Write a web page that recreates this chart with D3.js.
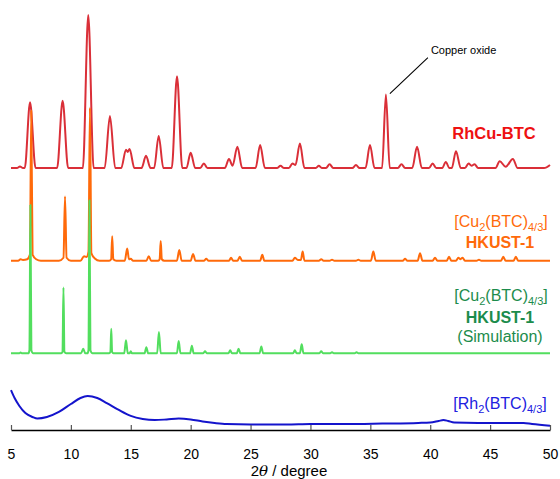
<!DOCTYPE html>
<html>
<head>
<meta charset="utf-8">
<script src="https://cdn.jsdelivr.net/npm/d3@7"></script>
<style>
   body { margin: 0; background: #fff; }
   svg { display: block; font-family: 'Liberation Sans', Arial, Helvetica, sans-serif; }
</style>
</head>
<body>
<div id="chart"></div>
<script>
// XRD patterns, [2theta (deg), relative intensity]
const rhCuBtc = [
   [5, 0], [5.5, 0], [5.75, 1], [6.0, 0], [6.15, 0], [6.59, 43], [7.05, 0],
   [8.85, 0], [9.31, 44], [9.77, 0],
   [11.0, 0], [11.45, 100], [11.9, 0],
   [12.82, 0], [13.26, 34], [13.7, 0],
   [14.2, 0], [14.6, 12], [14.75, 10.5], [14.9, 12.5], [15.3, 0],
   [15.9, 0], [16.27, 8], [16.65, 0],
   [16.95, 0], [17.33, 21], [17.72, 0],
   [18.42, 0], [18.86, 60], [19.3, 0],
   [19.65, 0], [20.0, 10], [20.38, 0],
   [20.8, 0], [21.1, 3], [21.4, 0],
   [22.85, 0], [23.2, 6], [23.5, 1.5], [23.9, 14], [24.3, 0],
   [25.42, 0], [25.8, 15], [26.2, 0],
   [27.2, 0], [27.5, 1.5], [27.8, 0],
   [28.2, 0], [28.5, 3], [28.75, 2], [29.12, 16], [29.5, 0],
   [30.45, 0], [30.7, 1.5], [30.95, 0],
   [31.3, 0], [31.6, 2.5], [31.9, 0],
   [33.5, 0], [33.8, 2], [34.1, 0],
   [34.6, 0], [34.97, 15], [35.35, 0],
   [35.98, 0], [36.3, 48], [36.62, 0],
   [37.3, 0], [37.6, 2.5], [37.9, 0],
   [38.5, 0], [38.9, 14], [39.3, 0],
   [39.9, 0], [40.2, 3], [40.5, 0],
   [41.0, 0], [41.3, 4], [41.6, 0],
   [41.8, 0], [42.15, 11], [42.55, 0],
   [42.9, 0], [43.2, 3], [43.45, 1.5], [43.7, 2.5], [44.0, 0],
   [45.45, 0], [45.8, 4.5], [46.3, 0.8], [46.9, 6], [47.3, 0],
   [49.5, 0], [50, 2]
];

const hkust1 = [
   [5, 0], [5.6, 0], [5.8, 1], [6.0, 0.5], [6.35, 1], [6.58, 4], [6.69, 98], [6.8, 4], [7.1, 1], [7.5, 0],
   [9.0, 0], [9.38, 2], [9.51, 42], [9.64, 2], [10.0, 0],
   [10.8, 0], [11.1, 3], [11.3, 2.5], [11.47, 6], [11.59, 100], [11.71, 5], [12.0, 1.5], [12.4, 0],
   [13.2, 0], [13.36, 1], [13.45, 16], [13.54, 1], [13.8, 0],
   [14.5, 0], [14.7, 8], [14.85, 1], [15.0, 1.3], [15.2, 0],
   [16.3, 0], [16.5, 3], [16.7, 0],
   [17.3, 0], [17.41, 1], [17.5, 13], [17.59, 1], [17.8, 0],
   [18.85, 0], [19.05, 7], [19.25, 0],
   [20.0, 0], [20.2, 4.5], [20.4, 0],
   [21.1, 0], [21.3, 1.3], [21.5, 0],
   [23.2, 0], [23.37, 2], [23.55, 0],
   [23.9, 0], [24.1, 2.6], [24.3, 0],
   [25.8, 0], [25.98, 4], [26.15, 0],
   [28.5, 0], [28.7, 2], [28.95, 0.5], [29.2, 0.5], [29.35, 6], [29.5, 0],
   [30.7, 0], [30.9, 1], [31.1, 0],
   [31.6, 0], [31.8, 0.7], [32.0, 0],
   [33.8, 0], [34.0, 0.7], [34.2, 0],
   [35.05, 0], [35.25, 6], [35.45, 0],
   [37.7, 0], [37.9, 1.3], [38.1, 0],
   [38.95, 0], [39.15, 5], [39.35, 0],
   [40.2, 0], [40.4, 2], [40.6, 0],
   [41.37, 0], [41.57, 2.6], [41.77, 0],
   [42.15, 0], [42.35, 2], [42.5, 1], [42.7, 2], [42.9, 0],
   [43.87, 0], [44.07, 0.7], [44.27, 0],
   [45.9, 0], [46.1, 2.6], [46.3, 0],
   [46.95, 0], [47.15, 2.6], [47.35, 0],
   [50, 0]
];

const hkust1Sim = [
   [5, 0], [5.7, 0], [5.8, 0.6], [5.9, 0],
   [6.45, 0], [6.54, 2], [6.62, 97], [6.7, 2], [6.85, 0],
   [9.2, 0], [9.3, 1], [9.38, 43], [9.46, 1], [9.6, 0],
   [10.85, 0], [11.03, 3], [11.2, 0],
   [11.38, 0], [11.47, 2], [11.55, 100], [11.63, 2], [11.8, 0],
   [13.2, 0], [13.3, 1], [13.37, 16], [13.44, 1], [13.55, 0],
   [14.45, 0], [14.6, 8.5], [14.75, 0],
   [14.9, 0], [15.0, 1.3], [15.1, 0],
   [16.15, 0], [16.3, 4], [16.45, 0],
   [17.2, 0], [17.35, 14], [17.5, 0],
   [18.85, 0], [19.0, 8], [19.15, 0],
   [19.95, 0], [20.1, 5], [20.25, 0],
   [21.05, 0], [21.2, 1.3], [21.35, 0],
   [23.15, 0], [23.3, 2], [23.45, 0],
   [23.85, 0], [24.0, 3], [24.15, 0],
   [25.75, 0], [25.9, 4.5], [26.05, 0],
   [28.55, 0], [28.7, 2], [28.85, 0],
   [29.12, 0], [29.27, 6], [29.42, 0],
   [30.75, 0], [30.9, 1.3], [31.05, 0],
   [31.65, 0], [31.8, 0.7], [31.95, 0],
   [33.7, 0], [33.85, 0.7], [34.0, 0],
   [50, 0]
];

const rh2Btc = [
   [5.0, 26.1], [5.3, 20.9], [5.7, 15.7], [6.2, 11.1], [6.8, 8.5], [7.2, 7.5], [8.0, 8.5],
   [9.0, 11.8], [10.0, 17.0], [10.8, 20.9], [11.4, 22.2], [12.2, 20.9], [13.0, 17.6],
   [14.0, 13.1], [15.0, 9.2], [16.0, 7.2], [17.0, 6.5], [18.0, 6.9], [19.0, 7.5],
   [20.0, 6.9], [21.0, 5.6], [22.0, 4.6], [23.0, 3.9], [25.0, 3.6], [28.0, 3.6],
   [30.0, 3.9], [33.0, 3.9], [36.0, 4.2], [39.0, 4.6], [40.0, 4.9], [40.7, 5.9],
   [41.1, 6.5], [41.5, 5.9], [42.0, 4.9], [44.0, 4.6], [46.0, 4.6], [47.8, 4.6],
   [48.5, 3.9], [50.0, 2.8]
];

const xTicks = [5, 10, 15, 20, 25, 30, 35, 40, 45, 50];

// baseline offset of each stacked pattern, intensity units
const offsets = [171.2, 110.6, 50.1, 0];

const WIDTH = 560;
const HEIGHT = 479;
const AXIS_Y = 430;

const svg = d3.select('#chart')
   .append('svg')
   .attr('width', WIDTH)
   .attr('height', HEIGHT);

const x = d3.scaleLinear()
   .domain([5, 50])
   .range([11, 550]);

const y = d3.scaleLinear()
   .domain([0, 100])
   .range([AXIS_Y, 277]);

const traces = [
   { data: rhCuBtc, off: offsets[0], color: '#da2f38', width: 2 },
   { data: hkust1, off: offsets[1], color: '#ff6a0a', width: 2 },
   { data: hkust1Sim, off: offsets[2], color: '#52de5e', width: 2 },
   { data: rh2Btc, off: offsets[3], color: '#1414cc', width: 2 }
];

traces.forEach(t => {
   const line = d3.line()
      .x(d => x(d[0]))
      .y(d => y(d[1] + t.off))
      .curve(d3.curveMonotoneX);

   svg.append('path')
      .datum(t.data)
      .attr('fill', 'none')
      .attr('stroke', t.color)
      .attr('stroke-width', t.width)
      .attr('stroke-linejoin', 'round')
      .attr('d', line);
});

// x axis, ticks pointing up
const xAxisCall = d3.axisBottom(x)
   .tickValues(xTicks)
   .tickSizeInner(-5)
   .tickSizeOuter(0)
   .tickPadding(19);

const xAxisGroup = svg.append('g')
   .attr('transform', `translate(0,${AXIS_Y})`)
   .call(xAxisCall);

xAxisGroup.select('.domain')
   .attr('stroke', '#000')
   .attr('stroke-width', 1.3);
xAxisGroup.selectAll('.tick line')
   .attr('stroke', '#555')
   .attr('stroke-width', 1.2);
xAxisGroup.selectAll('.tick text')
   .attr('font-family', "'Liberation Sans', Arial, sans-serif")
   .attr('font-size', 14)
   .attr('fill', '#000');

const xLabel = svg.append('text')
   .attr('x', 289)
   .attr('y', 476)
   .attr('text-anchor', 'middle')
   .attr('font-size', 15)
   .attr('fill', '#000');
xLabel.append('tspan').text('2');
xLabel.append('tspan').attr('font-style', 'italic').attr('font-family', "'DejaVu Serif', serif").text('θ');
xLabel.append('tspan').text(' / degree');

// copper oxide note
const cuo = rhCuBtc.find(d => d[0] === 36.3);
const cuoX = x(cuo[0]);
const cuoY = y(cuo[1] + offsets[0]);
svg.append('line')
   .attr('x1', cuoX + 4)
   .attr('y1', cuoY - 1)
   .attr('x2', cuoX + 42)
   .attr('y2', cuoY - 37)
   .attr('stroke', '#000')
   .attr('stroke-width', 1.1);
svg.append('text')
   .attr('x', cuoX + 45)
   .attr('y', cuoY - 41)
   .attr('font-size', 11)
   .attr('fill', '#000')
   .text('Copper oxide');

svg.append('text')
   .attr('x', 494)
   .attr('y', 138.5)
   .attr('text-anchor', 'middle')
   .attr('font-size', 16.5)
   .attr('font-weight', 'bold')
   .attr('fill', '#ee1111')
   .text('RhCu-BTC');

function formula(metal, cx, cy, color) {
   const t = svg.append('text')
      .attr('x', cx)
      .attr('y', cy)
      .attr('text-anchor', 'middle')
      .attr('font-size', 16)
      .attr('fill', color);
   t.append('tspan').text('[' + metal);
   t.append('tspan').attr('font-size', 11).attr('dy', 4).text('2');
   t.append('tspan').attr('dy', -4).text('(BTC)');
   t.append('tspan').attr('font-size', 11).attr('dy', 4).text('4/3');
   t.append('tspan').attr('dy', -4).text(']');
   return t;
}

formula('Cu', 501, 227, '#ff6a0a');
svg.append('text')
   .attr('x', 500)
   .attr('y', 247.5)
   .attr('text-anchor', 'middle')
   .attr('font-size', 16)
   .attr('font-weight', 'bold')
   .attr('fill', '#ff6a0a')
   .text('HKUST-1');

formula('Cu', 501, 301, '#1c8c4c');
svg.append('text')
   .attr('x', 500)
   .attr('y', 322.5)
   .attr('text-anchor', 'middle')
   .attr('font-size', 16)
   .attr('font-weight', 'bold')
   .attr('fill', '#1c8c4c')
   .text('HKUST-1');
svg.append('text')
   .attr('x', 500)
   .attr('y', 342)
   .attr('text-anchor', 'middle')
   .attr('font-size', 16)
   .attr('fill', '#1c8c4c')
   .text('(Simulation)');

formula('Rh', 500, 409, '#2020e0');
</script>
</body>
</html>
